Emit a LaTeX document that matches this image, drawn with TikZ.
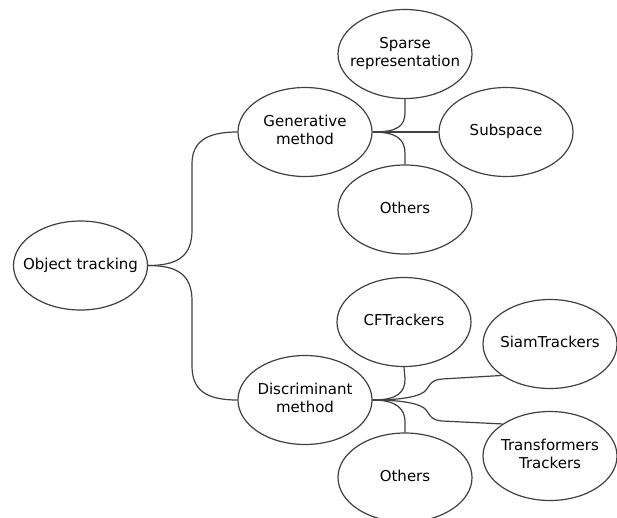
\documentclass[tikz,border=0pt]{standalone}
\usepackage{fontspec}
\setmainfont{DejaVu Sans}
\usetikzlibrary{shapes.geometric}
\definecolor{linegray}{HTML}{404040}
\newcommand{\bubtext}[1]{\makebox[0pt][c]{\begin{tabular}{@{}c@{}}#1\end{tabular}}}
\begin{document}
\begin{tikzpicture}[x=1pt,y=-1pt,
  bubble/.style={ellipse, draw=linegray, line width=1.2pt, minimum width=134pt,
    minimum height=89pt, inner sep=0pt, font=\fontsize{15}{18}\selectfont, text=black},
  link/.style={draw=linegray, line width=1.2pt}]
\useasboundingbox (0,0) rectangle (617,517);

\node[bubble] (ot) at (80.5,265.5) {\bubtext{Object tracking}};
\node[bubble] (gen) at (305,132) {\bubtext{Generative\\method}};
\node[bubble] (sparse) at (405,54) {\bubtext{Sparse\\representation}};
\node[bubble] (sub) at (506,132) {\bubtext{Subspace}};
\node[bubble] (oth1) at (405,209.5) {\bubtext{Others}};
\node[bubble] (disc) at (305,400) {\bubtext{Discriminant\\method}};
\node[bubble] (cf) at (404,322) {\bubtext{CFTrackers}};
\node[bubble] (siam) at (550,344) {\bubtext{SiamTrackers}};
\node[bubble] (trans) at (550,456) {\bubtext{Transformers\\Trackers}};
\node[bubble] (oth2) at (405,477.5) {\bubtext{Others}};

\draw[link] (ot.east) .. controls (178,265.5) and (192,256) .. (192,230) -- (192,164) .. controls (192,142) and (206,132) .. (gen.west);
\draw[link] (ot.east) .. controls (178,265.5) and (192,275) .. (192,301) -- (192,366) .. controls (192,390) and (206,400) .. (disc.west);
\draw[link] (gen.east) -- (sub.west);
\draw[link] (gen.east) .. controls (398,132) and (405,126) .. (405,112) -- (sparse.south);
\draw[link] (gen.east) .. controls (398,132) and (405,140) .. (405,154) -- (oth1.north);
\draw[link] (disc.east) .. controls (398,400) and (405,392) .. (405,379) -- (cf.south);
\draw[link] (disc.east) .. controls (398,400) and (405,410) .. (405,422) -- (oth2.north);
\draw[link] (disc.east) .. controls (400,400) and (417,397) .. (424,392) .. controls (430,387) and (429,380) .. (442,379) -- (siam.213);
\draw[link] (disc.east) .. controls (400,400) and (417,403) .. (424,408) .. controls (430,413) and (429,420) .. (442,421) -- (trans.146);
\end{tikzpicture}
\end{document}
